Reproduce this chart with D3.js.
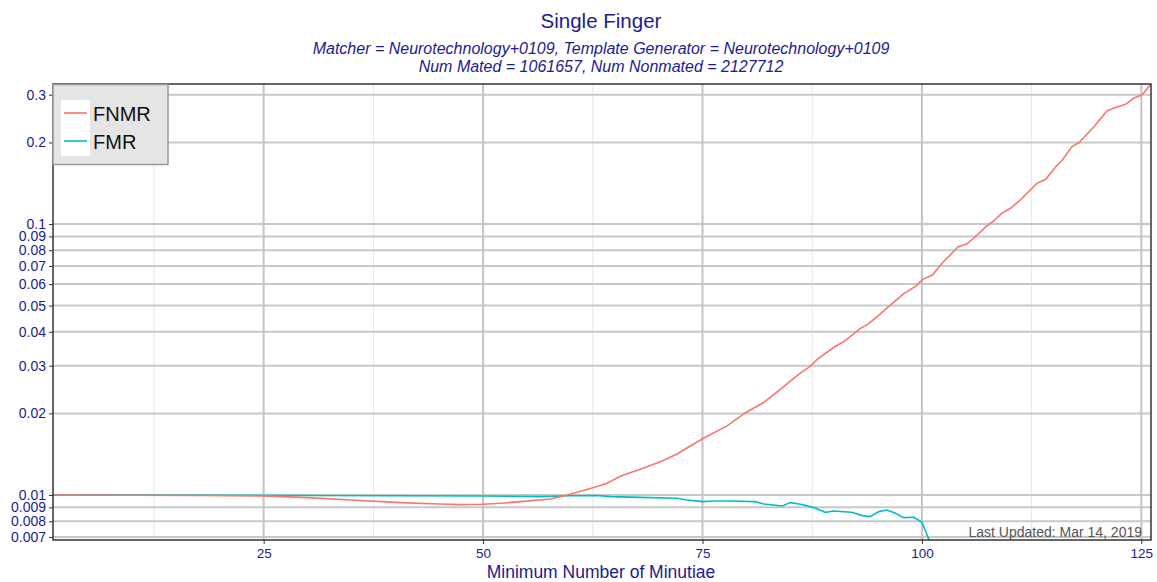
<!DOCTYPE html>
<html>
<head>
<meta charset="utf-8">
<script src="https://cdn.jsdelivr.net/npm/d3@7"></script>
<style>
  body { margin: 0; background: #fff; }
  svg { font-family: "Liberation Sans", Arial, sans-serif; }
</style>
</head>
<body>
<svg id="chart" width="1157" height="582"></svg>
<script>
// FNMR points
const fnmrX = [1, 10, 18, 25, 30, 35, 40.6, 45, 47.4, 50, 52, 54.3, 57.7, 59.6, 62.3, 64, 65.7, 67.9, 70.2, 72.1, 75.1, 77.8, 79.9, 82, 84, 86.1, 87.3, 88.1, 90.1, 91.1, 93, 93.9, 95.1, 96, 97.9, 99.3, 100.1, 101.2, 102.3, 104.1, 105.1, 105.9, 107.2, 108.2, 109.1, 110.1, 111.2, 113.1, 114.1, 115.2, 116, 117.1, 117.9, 119.6, 121.1, 122, 123.2, 124.1, 125.1, 126];
const fnmrY = [0.0100, 0.00998, 0.00996, 0.00992, 0.00978, 0.00958, 0.00937, 0.00926, 0.00921, 0.00924, 0.00932, 0.00945, 0.00966, 0.0100, 0.01058, 0.0110, 0.01175, 0.01244, 0.01327, 0.01417, 0.01619, 0.01798, 0.02012, 0.02198, 0.02476, 0.0281, 0.0299, 0.0317, 0.0353, 0.0368, 0.0412, 0.0428, 0.0461, 0.0489, 0.0552, 0.0590, 0.0625, 0.0648, 0.0716, 0.0822, 0.0843, 0.0886, 0.0972, 0.1028, 0.1095, 0.1143, 0.1226, 0.1413, 0.1462, 0.1620, 0.1722, 0.1930, 0.1996, 0.2286, 0.2620, 0.2686, 0.2765, 0.2910, 0.3000, 0.3260];

// FMR points
const fmrX = [1, 10, 20, 30, 40, 50, 56.6, 60, 63, 64.5, 68, 72.1, 73.2, 75.1, 76.3, 78.2, 81, 82, 84.1, 85, 86.2, 87.7, 89, 89.9, 92, 93.2, 94.1, 95.1, 96, 97, 97.9, 99.1, 100, 101];
const fmrY = [0.0100, 0.00999, 0.00998, 0.00996, 0.00993, 0.00991, 0.00986, 0.00993, 0.00995, 0.00986, 0.0098, 0.00972, 0.00958, 0.00945, 0.0095, 0.0095, 0.00945, 0.00926, 0.00911, 0.00937, 0.00924, 0.00898, 0.00863, 0.00873, 0.00863, 0.00839, 0.00832, 0.00868, 0.0088, 0.00856, 0.00825, 0.00827, 0.00793, 0.0066];

const xTicks = [25, 50, 75, 100, 125];
const xMinor = [12.5, 37.5, 62.5, 87.5, 112.5];
const yTicks = [0.007, 0.008, 0.009, 0.01, 0.02, 0.03, 0.04, 0.05, 0.06, 0.07, 0.08, 0.09, 0.1, 0.2, 0.3];

const seriesNames = ["FNMR", "FMR"];
const seriesColors = ["#F8766D", "#00BFC4"];

const textBlue = "#1c1c8e";

const svg = d3.select("#chart");
const margin = { left: 53, right: 6, top: 84, bottom: 42 };
const W = 1157, H = 582;

const x = d3.scaleLinear().domain([1, 126.1]).range([margin.left, W - margin.right]);
const y = d3.scaleLog().domain([0.00682, 0.3286]).range([H - margin.bottom, margin.top]);

// Titles
svg.append("text").attr("x", 601).attr("y", 28).attr("text-anchor", "middle")
	.attr("font-size", 20.5).attr("fill", textBlue).text("Single Finger");
svg.append("text").attr("x", 601).attr("y", 54).attr("text-anchor", "middle")
	.attr("font-size", 16).attr("font-style", "italic").attr("fill", textBlue)
	.text("Matcher = Neurotechnology+0109, Template Generator = Neurotechnology+0109");
svg.append("text").attr("x", 601).attr("y", 72).attr("text-anchor", "middle")
	.attr("font-size", 16).attr("font-style", "italic").attr("fill", textBlue)
	.text("Num Mated = 1061657, Num Nonmated = 2127712");

// Grid
const grid = svg.append("g");
grid.selectAll(".xminor").data(xMinor).enter().append("line")
	.attr("x1", d => x(d)).attr("x2", d => x(d))
	.attr("y1", margin.top).attr("y2", H - margin.bottom)
	.attr("stroke", "#e6e6e6").attr("stroke-width", 1);
grid.selectAll(".ymaj").data(yTicks).enter().append("line")
	.attr("x1", margin.left).attr("x2", W - margin.right)
	.attr("y1", d => y(d)).attr("y2", d => y(d))
	.attr("stroke", "#c8c8c8").attr("stroke-width", 2);
grid.selectAll(".xmaj").data(xTicks).enter().append("line")
	.attr("x1", d => x(d)).attr("x2", d => x(d))
	.attr("y1", margin.top).attr("y2", H - margin.bottom)
	.attr("stroke", "#c4c4c4").attr("stroke-width", 2);

// Clip
svg.append("clipPath").attr("id", "clip").append("rect")
	.attr("x", margin.left).attr("y", margin.top)
	.attr("width", W - margin.left - margin.right).attr("height", H - margin.top - margin.bottom);

const line = d3.line().x(d => x(d[0])).y(d => y(d[1]));
const plot = svg.append("g").attr("clip-path", "url(#clip)");
plot.append("path").datum(fmrX.map((v, i) => [v, fmrY[i]]))
	.attr("d", line).attr("fill", "none").attr("stroke", seriesColors[1]).attr("stroke-width", 1.6);
plot.append("path").datum(fnmrX.map((v, i) => [v, fnmrY[i]]))
	.attr("d", line).attr("fill", "none").attr("stroke", seriesColors[0]).attr("stroke-width", 1.6);

// Panel border
svg.append("rect").attr("x", margin.left).attr("y", margin.top)
	.attr("width", W - margin.left - margin.right).attr("height", H - margin.top - margin.bottom)
	.attr("fill", "none").attr("stroke", "#333").attr("stroke-width", 1.5);

// Axes
const xAxis = svg.append("g").attr("transform", `translate(0,${H - margin.bottom})`)
	.call(d3.axisBottom(x).tickValues(xTicks).tickSize(4).tickPadding(4).tickFormat(d3.format("d")));
xAxis.select(".domain").remove();
xAxis.selectAll("line").attr("stroke", "#333");
xAxis.selectAll("text").attr("font-size", 13.5).attr("fill", textBlue).attr("font-family", null);

const yAxis = svg.append("g").attr("transform", `translate(${margin.left},0)`)
	.call(d3.axisLeft(y).tickValues(yTicks).tickSize(4).tickPadding(3).tickFormat(d => String(+d.toPrecision(3))));
yAxis.select(".domain").remove();
yAxis.selectAll("line").attr("stroke", "#333");
yAxis.selectAll("text").attr("font-size", 14).attr("fill", textBlue).attr("font-family", null);

svg.append("text").attr("x", 601).attr("y", 578).attr("text-anchor", "middle")
	.attr("font-size", 17.5).attr("fill", textBlue).text("Minimum Number of Minutiae");

svg.append("text").attr("x", 1142).attr("y", 537).attr("text-anchor", "end")
	.attr("font-size", 14).attr("fill", "#555").text("Last Updated: Mar 14, 2019");

// Legend
const lg = svg.append("g");
lg.append("rect").attr("x", 53).attr("y", 84.5).attr("width", 115).attr("height", 80)
	.attr("fill", "#e5e5e5").attr("stroke", "#999").attr("stroke-width", 1.5);
lg.append("rect").attr("x", 61).attr("y", 100).attr("width", 29).attr("height", 56).attr("fill", "#fff");
seriesNames.forEach((name, i) => {
	const cy = 113 + i * 28;
	lg.append("line").attr("x1", 64).attr("x2", 87).attr("y1", cy).attr("y2", cy)
		.attr("stroke", seriesColors[i]).attr("stroke-width", 1.6);
	lg.append("text").attr("x", 93).attr("y", cy + 7.5).attr("font-size", 20).attr("fill", "#111").text(name);
});
</script>
</body>
</html>
